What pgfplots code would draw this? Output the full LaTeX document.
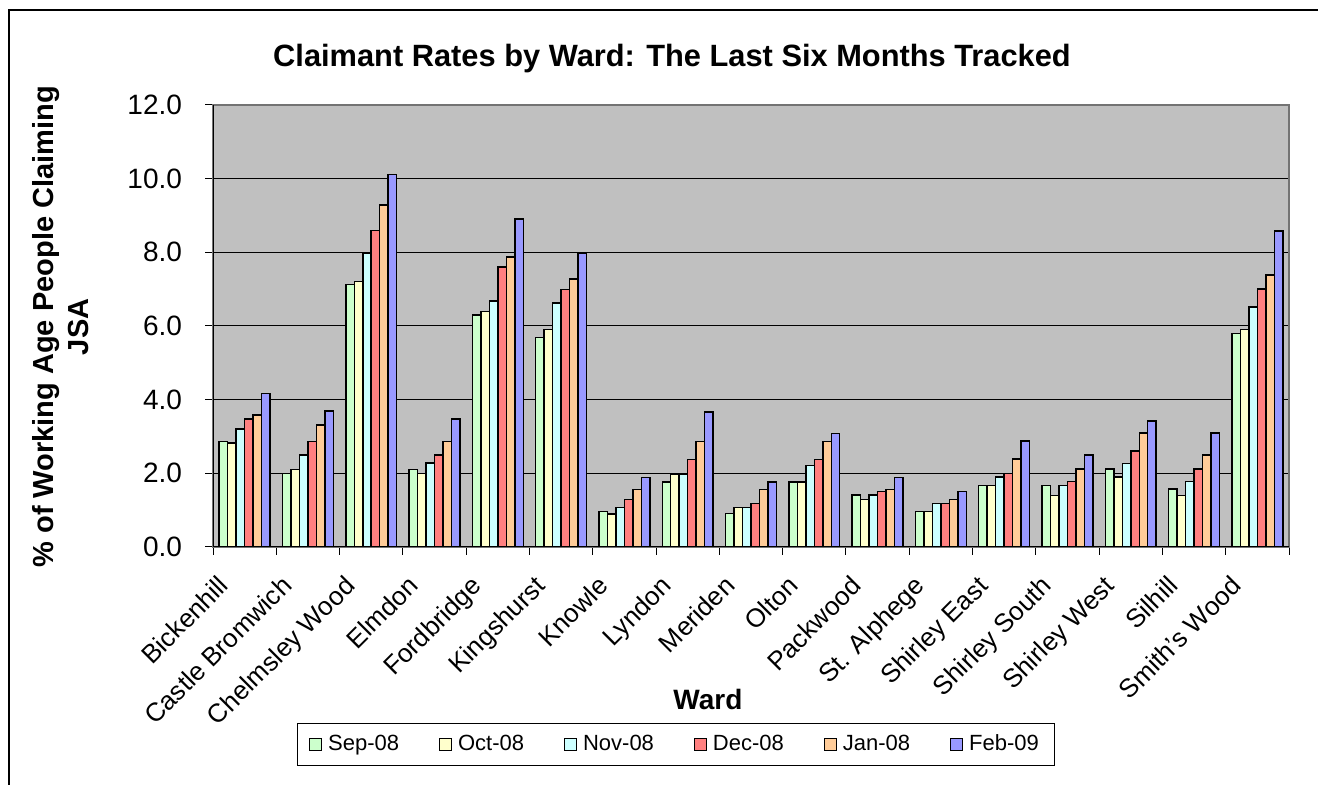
\documentclass[border=0pt]{standalone}
\usepackage{pgfplots}
\pgfplotsset{compat=1.18}
\usepackage{pgfplotstable}
\usepackage{fontspec}
\setmainfont{Liberation Sans}
\definecolor{cSep}{HTML}{CCFFCC}
\definecolor{cOct}{HTML}{FFFFCC}
\definecolor{cNov}{HTML}{CCFFFF}
\definecolor{cDec}{HTML}{FF8080}
\definecolor{cJan}{HTML}{FFCC99}
\definecolor{cFeb}{HTML}{9999FF}
\definecolor{plotbg}{HTML}{C0C0C0}
\pgfplotstableread{
x sep oct nov dec jan feb
0 2.87 2.82 3.21 3.48 3.59 4.17
1 2.00 2.11 2.50 2.87 3.31 3.69
2 7.12 7.21 7.98 8.59 9.29 10.11
3 2.11 2.00 2.28 2.50 2.87 3.48
4 6.30 6.40 6.68 7.60 7.87 8.90
5 5.69 5.91 6.63 6.99 7.28 7.97
6 0.96 0.90 1.07 1.29 1.56 1.89
7 1.77 1.98 1.98 2.38 2.86 3.67
8 0.91 1.07 1.07 1.18 1.56 1.77
9 1.77 1.77 2.21 2.38 2.86 3.08
10 1.41 1.29 1.41 1.50 1.56 1.89
11 0.96 0.96 1.18 1.18 1.29 1.50
12 1.67 1.67 1.90 2.00 2.39 2.88
13 1.67 1.40 1.67 1.78 2.12 2.50
14 2.12 1.90 2.27 2.61 3.09 3.42
15 1.57 1.40 1.78 2.12 2.50 3.09
16 5.80 5.91 6.51 7.00 7.38 8.58
}\datatable
\begin{document}
\begin{tikzpicture}
\useasboundingbox (0,0) rectangle (659pt,392.5pt);
\draw[black, line width=0.6pt] (4.5pt,0) -- (4.5pt,387.5pt) -- (659pt,387.5pt);
\begin{axis}[
  at={(106.5pt,119pt)}, anchor=south west,
  scale only axis, width=538pt, height=221pt,
  xmin=-0.5, xmax=16.5, ymin=0, ymax=12,
  axis background/.style={fill=plotbg},
  axis line style={draw=gray!90!black, line width=0.6pt},
  ybar=0pt, bar width=0.134,
  ytick={0,2,...,12},
  ymajorgrids, grid style={black, line width=0.5pt},
  yticklabel style={font=\fontsize{14}{16}\selectfont, xshift=-8pt, /pgf/number format/.cd, fixed, fixed zerofill, precision=1, assume math mode=true},
  tick align=outside,
  xtick pos=bottom, ytick pos=left,
  major tick length=4pt, minor tick length=4pt,
  tick style={black, line width=0.5pt},
  xtick={0,...,16},
  major x tick style={draw=none},
  minor xtick={-0.5,0.5,...,16.5},
  xticklabels={Bickenhill, Castle Bromwich, Chelmsley Wood, Elmdon, Fordbridge, Kingshurst, Knowle, Lyndon, Meriden, Olton, Packwood, St. Alphege, Shirley East, Shirley South, Shirley West, Silhill, Smith's Wood},
  xticklabel style={xshift=-14pt, yshift=-8pt, rotate=45, anchor=north east, font=\fontsize{13}{15}\selectfont, inner sep=1pt},
  title={Claimant Rates by Ward: The Last Six Months Tracked},
  title style={at={(rel axis cs:0.4266,1.1086)}, anchor=center, yshift=-7pt, font=\bfseries\fontsize{15.4}{17}\selectfont},
  xlabel={Ward},
  xlabel style={at={(rel axis cs:0.46,-0.346)}, anchor=center, font=\bfseries\fontsize{14}{16}\selectfont},
  ylabel={\% of Working Age People Claiming\\JSA},
  ylabel style={at={(rel axis cs:-0.142,0.498)}, anchor=center, align=center, font=\bfseries\fontsize{14.5}{17.5}\selectfont},
  legend columns=6,
  legend style={at={(rel axis cs:0.4303,-0.4468)}, anchor=center, draw=black, line width=0.5pt,
    font=\fontsize{11}{13}\selectfont, inner xsep=6pt, inner ysep=4pt,
    /tikz/every odd column/.append style={column sep=1pt},
    /tikz/every even column/.append style={column sep=18pt}},
  legend image code/.code={\draw[#1, line width=0.5pt] (0pt,-3pt) rectangle (6pt,3pt);},
  every axis plot/.append style={draw=black, line width=0.75pt},
]
\addplot[fill=cSep] table[x=x,y=sep]{\datatable};
\addplot[fill=cOct] table[x=x,y=oct]{\datatable};
\addplot[fill=cNov] table[x=x,y=nov]{\datatable};
\addplot[fill=cDec] table[x=x,y=dec]{\datatable};
\addplot[fill=cJan] table[x=x,y=jan]{\datatable};
\addplot[fill=cFeb] table[x=x,y=feb]{\datatable};
\legend{Sep-08, Oct-08, Nov-08, Dec-08, Jan-08, Feb-09}
\draw[black, line width=0.6pt] (rel axis cs:0,0) -- (rel axis cs:0,1);
\draw[black, line width=0.6pt] (rel axis cs:0,0) -- (rel axis cs:1,0);
\end{axis}
\end{tikzpicture}
\end{document}
